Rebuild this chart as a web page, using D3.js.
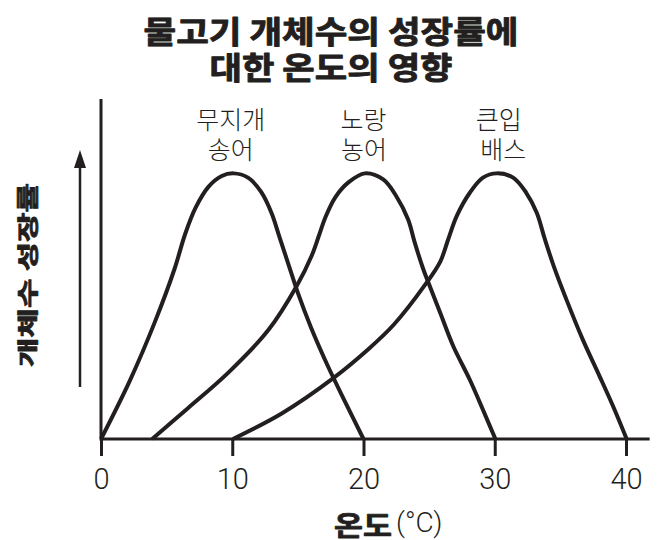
<!DOCTYPE html>
<html>
<head>
<meta charset="utf-8">
<script src="https://cdn.jsdelivr.net/npm/d3@7"></script>
<style>
  html, body { margin: 0; padding: 0; background: #fff; }
  svg { display: block; }
</style>
</head>
<body>
<svg id="chart" width="659" height="540"></svg>
<script>
// ---- data ----
const titleLines = ["물고기 개체수의 성장률에", "대한 온도의 영향"];
const xTicks = [0, 10, 20, 30, 40];
const xLabel = "온도";
const xUnit = "(°C)";
const yLabel = "개체수 성장률";
const seriesNames = [["무지개", "송어"], ["노랑", "농어"], ["큰입", "배스"]];
const seriesPeaks = [10, 20, 30];

const troutData = [
  [0, 0], [2.2, 22], [4.1, 44], [5.6, 64], [6.4, 77], [7.2, 87], [8.2, 95], [9.2, 99], [10.1, 100],
  [11.2, 98.4], [12.2, 93], [13, 85], [13.6, 76], [14.3, 65.5], [15, 55], [16, 42],
  [17.3, 27.3], [18.6, 14], [20, 0]
];
const perchData = [
  [3.9, 0], [6.6, 11.5], [9.7, 25], [12.75, 41], [14.9, 57.5], [16.05, 69], [16.6, 76.5],
  [17.1, 83.5], [17.85, 91], [18.85, 96.6], [20.1, 100], [21.5, 97.7], [22.5, 91.4],
  [23.4, 82.6], [23.9, 74], [24.55, 64], [24.95, 58.8], [25.85, 47.4], [26.85, 34.8],
  [28.1, 22.3], [29.1, 11], [30.05, 0]
];
const bassData = [
  [10.05, 0], [13.8, 9.7], [17.7, 22.9], [20.3, 33.5], [22.3, 43], [24.7, 58.1],
  [25.85, 66.8], [26.45, 75.1], [27.1, 83.9], [28.1, 92.7], [29.1, 98.4], [30.15, 100],
  [31.4, 98.4], [32.4, 92.7], [33.2, 85.2], [33.8, 75.5], [34.5, 65], [35.5, 52],
  [36.7, 37.5], [38, 23.5], [39, 12.5], [40.05, 0]
];
const allSeries = [troutData, perchData, bassData];

// ---- setup ----
const ink = "#231f20";
const svg = d3.select("#chart");
const x = d3.scaleLinear().domain([0, 40]).range([101, 626]);
const y = d3.scaleLinear().domain([0, 128]).range([439, 99]);
const xAxisEnd = 41.8;

// title
svg.append("g").selectAll("text").data(titleLines).join("text")
  .attr("x", 331)
  .attr("y", (d, i) => 29 + i * 36)
  .attr("text-anchor", "middle")
  .attr("dominant-baseline", "central")
  .attr("font-family", "'Noto Sans CJK KR', sans-serif")
  .attr("font-weight", 700)
  .attr("font-size", 31)
  .attr("fill", ink)
  .attr("stroke", ink)
  .attr("stroke-width", 0.9)
  .attr("stroke-linejoin", "round")
  .attr("textLength", (d, i) => i === 0 ? 375 : 243)
  .attr("lengthAdjust", "spacingAndGlyphs")
  .text(d => d);

// x axis with ticks
const xAxis = d3.axisBottom(x)
  .tickValues(xTicks)
  .tickSize(17)
  .tickSizeOuter(0)
  .tickPadding(12)
  .tickFormat(d3.format("d"));
const gx = svg.append("g").attr("transform", `translate(0,${y(0)})`).call(xAxis);
gx.select(".domain").remove();
gx.selectAll(".tick line").attr("stroke", ink).attr("stroke-width", 3);
gx.selectAll(".tick text")
  .attr("fill", ink)
  .attr("font-family", "Roboto, 'Liberation Sans', Arial, sans-serif")
  .attr("font-weight", 300)
  .attr("font-size", 29);

// axis lines
svg.append("line")
  .attr("x1", x(0)).attr("x2", x(xAxisEnd))
  .attr("y1", y(0)).attr("y2", y(0))
  .attr("stroke", ink).attr("stroke-width", 3);
svg.append("line")
  .attr("x1", x(0)).attr("x2", x(0))
  .attr("y1", y(0) + 1.5).attr("y2", y.range()[1])
  .attr("stroke", ink).attr("stroke-width", 3);

// curves
const line = d3.line()
  .x(d => x(d[0]))
  .y(d => y(d[1]))
  .curve(d3.curveCatmullRom.alpha(0.5));
svg.append("g").selectAll("path").data(allSeries).join("path")
  .attr("d", line)
  .attr("fill", "none")
  .attr("stroke", ink)
  .attr("stroke-width", 4)
  .attr("stroke-linejoin", "round")
  .attr("stroke-linecap", "butt");

// series labels
const labelDx = [[-1.5, -1.5], [0, 0.5], [4, 8.5]];
const lg = svg.append("g");
seriesNames.forEach((lines, si) => {
  lines.forEach((t, li) => {
    lg.append("text")
      .attr("x", x(seriesPeaks[si]) + labelDx[si][li])
      .attr("y", 118 + li * 30)
      .attr("text-anchor", "middle")
      .attr("dominant-baseline", "central")
      .attr("font-family", "'Noto Sans CJK KR', sans-serif")
      .attr("font-weight", 300)
      .attr("font-size", 25)
      .attr("fill", ink)
      .text(t);
  });
});

// y arrow
svg.append("line")
  .attr("x1", 80).attr("x2", 80)
  .attr("y1", 387).attr("y2", 162)
  .attr("stroke", ink).attr("stroke-width", 2.5);
svg.append("path")
  .attr("d", "M80,150 L74,168 L86,168 Z")
  .attr("fill", ink);

// y label
svg.append("text")
  .attr("transform", "translate(26,275) rotate(-90)")
  .attr("text-anchor", "middle")
  .attr("dominant-baseline", "central")
  .attr("font-family", "'Noto Sans CJK KR', sans-serif")
  .attr("font-weight", 700)
  .attr("font-size", 21)
  .attr("fill", ink)
  .attr("stroke", ink)
  .attr("stroke-width", 0.8)
  .attr("stroke-linejoin", "round")
  .attr("textLength", 184)
  .attr("lengthAdjust", "spacingAndGlyphs")
  .text(yLabel);

// x label
svg.append("text")
  .attr("x", 334).attr("y", 524)
  .attr("dominant-baseline", "central")
  .attr("font-family", "'Noto Sans CJK KR', sans-serif")
  .attr("font-weight", 700)
  .attr("font-size", 27)
  .attr("fill", ink)
  .attr("stroke", ink)
  .attr("stroke-width", 0.8)
  .attr("stroke-linejoin", "round")
  .attr("textLength", 58)
  .attr("lengthAdjust", "spacingAndGlyphs")
  .text(xLabel);
svg.append("text")
  .attr("x", 396).attr("y", 532)
  .attr("font-family", "Roboto, 'Liberation Sans', Arial, sans-serif")
  .attr("font-weight", 300)
  .attr("font-size", 28)
  .attr("fill", ink)
  .text(xUnit);
</script>
</body>
</html>
